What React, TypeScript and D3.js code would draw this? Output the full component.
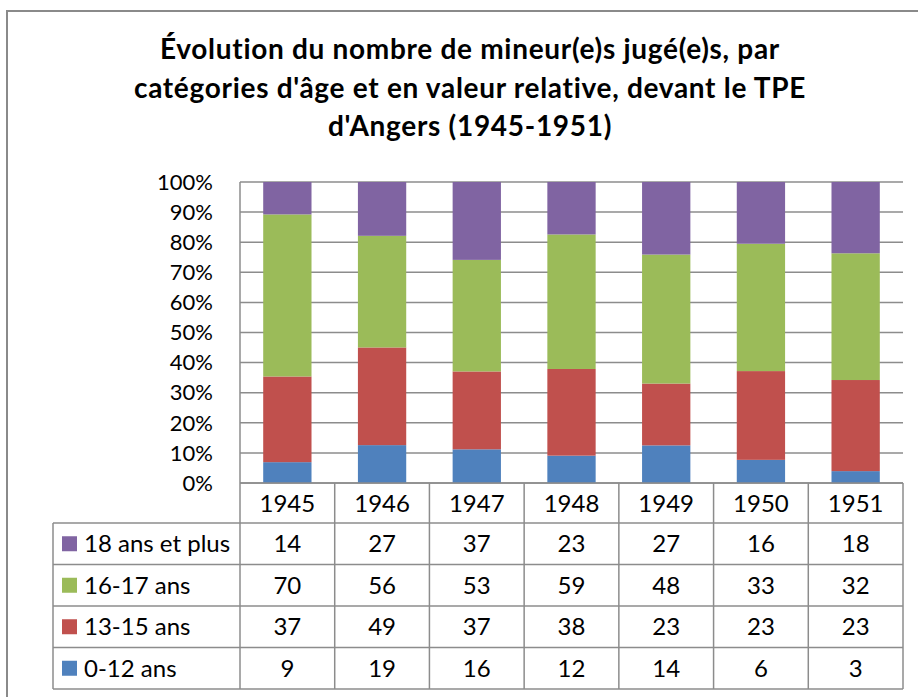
import React from 'react'
import * as d3 from 'd3'

const years = ['1945', '1946', '1947', '1948', '1949', '1950', '1951']
const seriesNames = ['0-12 ans', '13-15 ans', '16-17 ans', '18 ans et plus']
const age0to12 = [9, 19, 16, 12, 14, 6, 3]
const age13to15 = [37, 49, 37, 38, 23, 23, 23]
const age16to17 = [70, 56, 53, 59, 48, 33, 32]
const age18plus = [14, 27, 37, 23, 27, 16, 18]
const colors = ['#4F81BD', '#C0504D', '#9BBB59', '#8064A2']
const yTicks = [0, 0.1, 0.2, 0.3, 0.4, 0.5, 0.6, 0.7, 0.8, 0.9, 1]
const titleLines = [
  'Évolution du nombre de mineur(e)s jugé(e)s, par',
  "catégories d'âge et en valeur relative, devant le TPE",
  "d'Angers (1945-1951)",
]

const W = 918
const H = 697
const FONT = 'Lato, "Open Sans", sans-serif'
const GRID = '#8c8c8c'

export default function App() {
  const seriesValues = [age0to12, age13to15, age16to17, age18plus]
  const rows = years.map((yr, i) => {
    const r: Record<string, number | string> = { year: yr }
    seriesNames.forEach((s, k) => (r[s] = seriesValues[k][i]))
    return r
  })
  const stacked = d3
    .stack<any>()
    .keys(seriesNames)
    .offset(d3.stackOffsetExpand)(rows)

  const left = 240
  const right = 903
  const top = 182
  const bottom = 483

  const xCol = d3.scaleBand().domain(years).range([left, right]).padding(0)
  const xBar = d3.scaleBand().domain(years).range([left, right]).paddingInner(0.49).paddingOuter(0.245)
  const y = d3.scaleLinear().domain([0, 1]).range([bottom, top])

  // data table rows, top to bottom
  const tableTop = 523
  const tableBottom = 689
  const tableLeft = 53
  const rowOrder = [3, 2, 1, 0]
  const yRow = d3.scaleBand().domain(rowOrder.map(String)).range([tableTop, tableBottom])

  return (
    <svg width={W} height={H} style={{ position: 'absolute', left: 0, top: 0, background: '#fff' }} fontFamily={FONT}>
      <rect x={0} y={0} width={W} height={H} fill="#fff" />
      {/* outer frame (cropped at right and bottom) */}
      <path d={`M7,${H} V11 H${W}`} fill="none" stroke="#8a8a8a" strokeWidth={2} />

      {titleLines.map((t, i) => (
        <text key={i} x={470} y={59 + i * 38.5} textAnchor="middle" fontWeight="bold" fontSize={28} letterSpacing={0.7} fill="#000">
          {t}
        </text>
      ))}

      {/* gridlines */}
      {yTicks.map((t) => (
        <line key={t} x1={left} x2={right} y1={y(t)} y2={y(t)} stroke={GRID} strokeWidth={1.5} />
      ))}
      <line x1={left} x2={left} y1={top} y2={bottom} stroke={GRID} strokeWidth={1.5} />

      {yTicks.map((t) => (
        <text key={'l' + t} x={213} y={y(t)} dy="0.35em" textAnchor="end" fontSize={22} fill="#000">
          {d3.format('.0%')(t)}
        </text>
      ))}

      {/* stacked bars */}
      {stacked.map((s, k) => (
        <g key={s.key} fill={colors[k]}>
          {s.map((d, i) => (
            <rect
              key={i}
              x={xBar(years[i])}
              width={xBar.bandwidth()}
              y={y(d[1])}
              height={y(d[0]) - y(d[1])}
            />
          ))}
        </g>
      ))}

      {/* data table */}
      <g stroke={GRID} strokeWidth={1.5} fill="none">
        {years.map((yr) => (
          <line key={yr} x1={xCol(yr)} x2={xCol(yr)} y1={bottom} y2={tableBottom} />
        ))}
        <line x1={right} x2={right} y1={bottom} y2={tableBottom} />
        <line x1={left} x2={right} y1={bottom} y2={bottom} />
        <line x1={tableLeft} x2={tableLeft} y1={tableTop} y2={tableBottom} />
        {rowOrder.map((k) => (
          <line key={k} x1={tableLeft} x2={right} y1={yRow(String(k))} y2={yRow(String(k))} />
        ))}
        <line x1={tableLeft} x2={right} y1={tableBottom} y2={tableBottom} />
      </g>

      {years.map((yr) => (
        <text key={'h' + yr} x={xCol(yr)! + xCol.bandwidth() / 2} y={(bottom + tableTop) / 2} dy="0.36em" textAnchor="middle" fontSize={24} fill="#000">
          {yr}
        </text>
      ))}

      {rowOrder.map((k) => {
        const ry = yRow(String(k))! + yRow.bandwidth() / 2
        return (
          <g key={'r' + k}>
            <rect x={62} y={ry - 7.5} width={15} height={15} fill={colors[k]} />
            <text x={84} y={ry} dy="0.36em" fontSize={24} fill="#000">
              {seriesNames[k]}
            </text>
            {seriesValues[k].map((v, i) => (
              <text key={i} x={xCol(years[i])! + xCol.bandwidth() / 2} y={ry} dy="0.36em" textAnchor="middle" fontSize={24} fill="#000">
                {v}
              </text>
            ))}
          </g>
        )
      })}
    </svg>
  )
}
